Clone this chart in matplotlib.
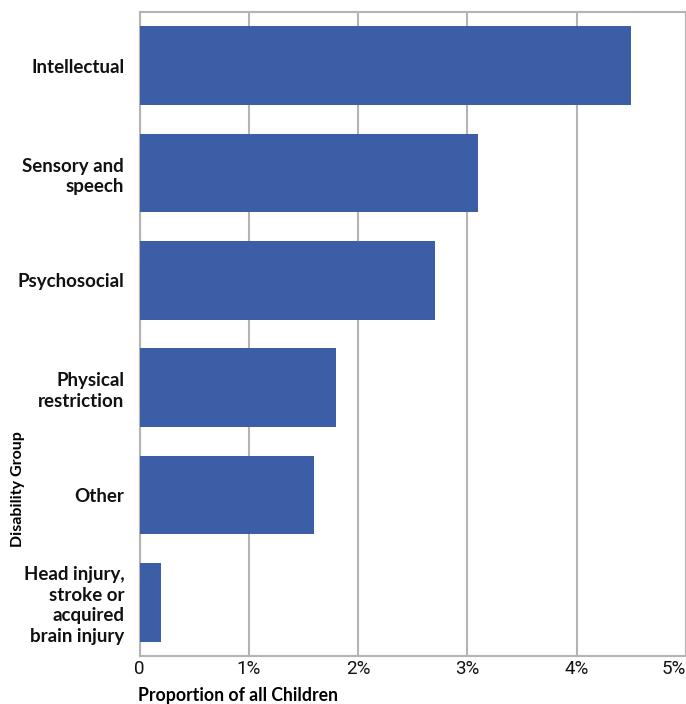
import matplotlib
matplotlib.use("Agg")
import matplotlib.pyplot as plt
import matplotlib.transforms as mtransforms
from matplotlib.ticker import FuncFormatter

categories = ["Intellectual", "Sensory and\nspeech", "Psychosocial", "Physical\nrestriction",
              "Other", "Head injury,\nstroke or\nacquired\nbrain injury"]
values = [4.5, 3.1, 2.7, 1.8, 1.6, 0.2]
xticks = [0, 1, 2, 3, 4, 5]

W, H = 686, 704
fig = plt.figure(figsize=(W/100, H/100), dpi=100)
ax = fig.add_axes([139.5/W, 1-656/H, (686-139.5)/W, (656-12)/H])

ypos = list(range(len(categories)))
ax.barh(ypos, values, height=0.73, color="#3C5EA6", zorder=3)
ax.set_ylim(len(categories)-0.5, -0.5)
ax.set_xlim(0, 5)
ax.set_xticks(xticks)
ax.xaxis.set_major_formatter(FuncFormatter(lambda v, p: "0" if v == 0 else f"{v:.0f}%"))
ax.set_yticks(ypos)
ax.set_yticklabels(categories, fontsize=13.5, fontweight="bold", family="Lato", ha="right",
                   multialignment="right", linespacing=1.25)
offset = mtransforms.ScaledTranslation(0, 3/100, fig.dpi_scale_trans)
for lab in ax.get_yticklabels():
    lab.set_transform(lab.get_transform() + offset)
xl = ax.get_xticklabels()
for lab in xl:
    lab.set_fontsize(13.5)
    lab.set_family("Roboto")
xl[-1].set_horizontalalignment("right")
ax.tick_params(axis="both", length=0, colors="#111111")
ax.tick_params(axis="y", pad=11)
ax.tick_params(axis="x", pad=3)
ax.grid(axis="x", color="#B4B4B4", linewidth=1.5, zorder=0)
for s in ax.spines.values():
    s.set_color("#B4B4B4")
    s.set_linewidth(1.5)

fig.text(138/W, 1-695/H, "Proportion of all Children", fontsize=12.7, fontweight="bold",
         family="Lato", ha="left", va="center")
fig.text(18/W, 1-489/H, "Disability Group", fontsize=11.5, fontweight="bold", family="Lato",
         rotation=90, ha="center", va="center")

fig.savefig("out.png", dpi=100)
